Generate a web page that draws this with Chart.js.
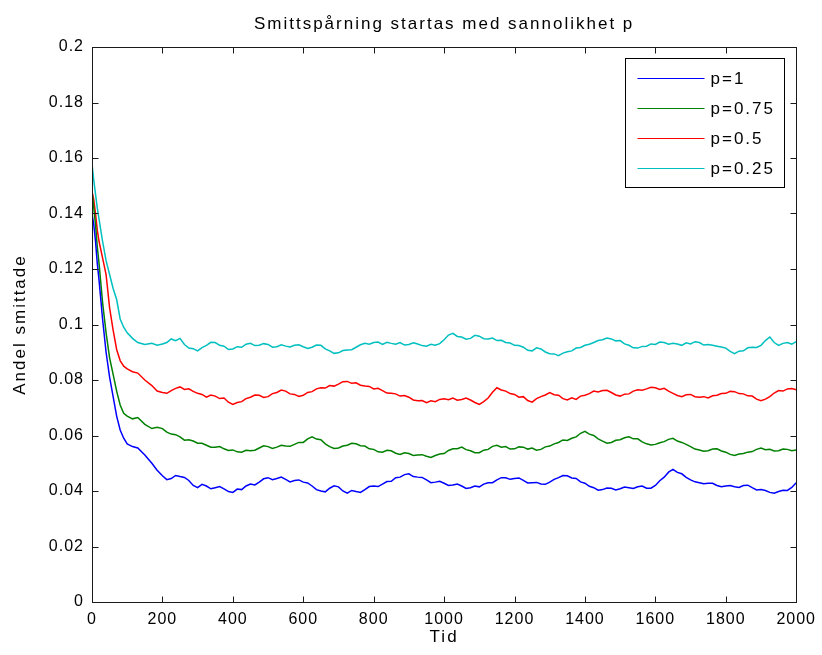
<!DOCTYPE html>
<html>
<head>
<meta charset="utf-8">
<script src="https://cdn.jsdelivr.net/npm/chart.js@4"></script>
<style>
  body { margin: 0; background: #fff; }
  #wrap { width: 822px; height: 655px; }
</style>
</head>
<body>
<div id="wrap"><canvas id="smitta" width="822" height="655"></canvas></div>
<script>
// tid (x)
var tid = [0,5,10,15,20,30,40,50,60,70,80,90,100,115,130,150,170,185,
  200,212.5,225,237.5,250,262.5,275,287.5,300,312.5,
  325,337.5,350,362.5,375,387.5,400,412.5,425,437.5,
  450,462.5,475,487.5,500,512.5,525,537.5,550,562.5,
  575,587.5,600,612.5,625,637.5,650,662.5,675,687.5,
  700,712.5,725,737.5,750,762.5,775,787.5,800,812.5,
  825,837.5,850,862.5,875,887.5,900,912.5,925,937.5,
  950,962.5,975,987.5,1000,1012.5,1025,1037.5,1050,1062.5,
  1075,1087.5,1100,1112.5,1125,1137.5,1150,1162.5,1175,1187.5,
  1200,1212.5,1225,1237.5,1250,1262.5,1275,1287.5,1300,1312.5,
  1325,1337.5,1350,1362.5,1375,1387.5,1400,1412.5,1425,1437.5,
  1450,1462.5,1475,1487.5,1500,1512.5,1525,1537.5,1550,1562.5,
  1575,1587.5,1600,1612.5,1625,1637.5,1650,1662.5,1675,1687.5,
  1700,1712.5,1725,1737.5,1750,1762.5,1775,1787.5,1800,1812.5,
  1825,1837.5,1850,1862.5,1875,1887.5,1900,1912.5,1925,1937.5,
  1950,1962.5,1975,1987.5,2000];

var p1 = [0.140,0.136,0.130,0.122,0.116,0.102,0.090,0.081,0.074,0.067,0.062,0.059,0.057,0.056,0.0555,0.053,0.050,0.0475,
  .0455,.0441,.0445,.0456,.0452,.0449,.0438,.0420,.0412,.0424,
  .0418,.0408,.0412,.0416,.0408,.0398,.0395,.0407,.0405,.0418,
  .0425,.0422,.0432,.0444,.0448,.0441,.0445,.0450,.0442,.0433,
  .0438,.0440,.0432,.0429,.0418,.0405,.0400,.0397,.0410,.0419,
  .0415,.0400,.0392,.0402,.0398,.0395,.0405,.0416,.0418,.0416,
  .0425,.0434,.0435,.0448,.0450,.0459,.0462,.0452,.0450,.0449,
  .0440,.0430,.0432,.0435,.0428,.0420,.0422,.0425,.0418,.0409,
  .0412,.0418,.0415,.0425,.0430,.0430,.0440,.0448,.0448,.0442,
  .0445,.0447,.0438,.0429,.0430,.0431,.0425,.0424,.0432,.0442,
  .0448,.0456,.0455,.0447,.0445,.0433,.0428,.0417,.0412,.0403,
  .0405,.0411,.0410,.0404,.0408,.0414,.0412,.0409,.0415,.0418,
  .0410,.0410,.0420,.0437,.0450,.0468,.0478,.0467,.0462,.0449,
  .0440,.0433,.0430,.0426,.0428,.0428,.0420,.0415,.0418,.0420,
  .0415,.0413,.0420,.0421,.0412,.0404,.0405,.0402,.0395,.0392,
  .0398,.0403,.0402,.0413,.0430];

var p075 = [0.148,0.142,0.136,0.128,0.122,0.108,0.097,0.088,0.082,0.076,0.071,0.068,0.067,0.066,0.0665,0.064,0.0625,0.063,
  .0625,.0612,.0605,.0603,.0595,.0583,.0585,.0580,.0572,.0572,
  .0565,.0558,.0558,.0560,.0552,.0546,.0548,.0541,.0540,.0547,
  .0545,.0547,.0555,.0563,.0560,.0553,.0558,.0565,.0562,.0561,
  .0568,.0575,.0575,.0588,.0595,.0587,.0585,.0570,.0560,.0553,
  .0555,.0562,.0565,.0572,.0570,.0563,.0562,.0552,.0550,.0541,
  .0540,.0547,.0545,.0536,.0532,.0538,.0535,.0528,.0530,.0531,
  .0525,.0521,.0528,.0533,.0535,.0546,.0552,.0552,.0558,.0549,
  .0545,.0538,.0538,.0547,.0550,.0561,.0565,.0558,.0560,.0551,
  .0552,.0559,.0558,.0551,.0555,.0547,.0550,.0559,.0562,.0570,
  .0575,.0584,.0582,.0590,.0595,.0608,.0615,.0605,.0600,.0588,
  .0580,.0572,.0575,.0583,.0585,.0592,.0595,.0588,.0588,.0577,
  .0570,.0566,.0568,.0574,.0578,.0586,.0590,.0580,.0575,.0568,
  .0560,.0551,.0548,.0543,.0545,.0551,.0552,.0544,.0540,.0532,
  .0528,.0533,.0535,.0540,.0542,.0550,.0555,.0549,.0550,.0544,
  .0545,.0551,.0550,.0545,.0548];

var p05 = [0.148,0.145,0.140,0.134,0.130,0.124,0.118,0.106,0.098,0.091,0.087,0.085,0.084,0.083,0.0825,0.080,0.078,0.076,
  .0755,.0752,.0762,.0770,.0775,.0766,.0768,.0759,.0752,.0748,
  .0738,.0746,.0742,.0733,.0735,.0720,.0712,.0719,.0722,.0733,
  .0738,.0746,.0745,.0737,.0740,.0751,.0755,.0764,.0760,.0750,
  .0748,.0741,.0745,.0755,.0758,.0768,.0772,.0771,.0780,.0778,
  .0785,.0794,.0795,.0788,.0790,.0781,.0778,.0777,.0768,.0770,
  .0762,.0753,.0752,.0750,.0742,.0744,.0738,.0728,.0725,.0726,
  .0718,.0725,.0722,.0730,.0732,.0729,.0735,.0727,.0730,.0735,
  .0728,.0719,.0712,.0722,.0735,.0756,.0772,.0764,.0760,.0751,
  .0748,.0738,.0740,.0726,.0720,.0733,.0740,.0746,.0755,.0747,
  .0745,.0733,.0728,.0736,.0730,.0742,.0745,.0751,.0760,.0757,
  .0762,.0763,.0755,.0746,.0742,.0749,.0750,.0760,.0765,.0763,
  .0768,.0774,.0772,.0766,.0770,.0760,.0752,.0744,.0740,.0747,
  .0748,.0740,.0738,.0740,.0735,.0743,.0745,.0751,.0752,.0759,
  .0758,.0751,.0750,.0743,.0742,.0731,.0725,.0731,.0740,.0753,
  .0762,.0760,.0768,.0769,.0765];

var p025 = [0.158,0.152,0.147,0.142,0.138,0.130,0.123,0.118,0.113,0.109,0.102,0.099,0.097,0.095,0.0935,0.0928,0.0932,0.0925,
  .0930,.0935,.0948,.0942,.0950,.0928,.0915,.0913,.0905,.0917,
  .0925,.0936,.0935,.0925,.0922,.0910,.0912,.0920,.0918,.0929,
  .0932,.0924,.0925,.0931,.0928,.0918,.0920,.0927,.0922,.0919,
  .0925,.0927,.0920,.0914,.0918,.0926,.0925,.0912,.0905,.0896,
  .0898,.0906,.0908,.0909,.0918,.0927,.0932,.0929,.0935,.0937,
  .0928,.0936,.0932,.0929,.0935,.0926,.0928,.0934,.0930,.0924,
  .0922,.0929,.0925,.0931,.0945,.0962,.0968,.0957,.0955,.0947,
  .0950,.0961,.0958,.0949,.0948,.0951,.0942,.0943,.0935,.0933,
  .0925,.0924,.0918,.0907,.0905,.0916,.0912,.0901,.0895,.0894,
  .0888,.0897,.0902,.0905,.0915,.0917,.0925,.0929,.0935,.0942,
  .0945,.0951,.0948,.0941,.0942,.0930,.0925,.0916,.0915,.0921,
  .0922,.0930,.0928,.0937,.0935,.0929,.0932,.0930,.0925,.0934,
  .0930,.0938,.0935,.0926,.0928,.0925,.0922,.0919,.0915,.0903,
  .0895,.0904,.0905,.0916,.0918,.0917,.0925,.0942,.0955,.0935,
  .0925,.0932,.0935,.0929,.0938];

var serieNamn = ['p=1', 'p=0.75', 'p=0.5', 'p=0.25'];
var farger = ['#0000ff', '#008000', '#ff0000', '#00bfbf'];
var xTickText = ['0','200','400','600','800','1000','1200','1400','1600','1800','2000'];
var yTickText = ['0','0.02','0.04','0.06','0.08','0.1','0.12','0.14','0.16','0.18','0.2'];

function punkter(arr) {
  return tid.map(function (t, i) { return { x: t, y: arr[i] }; });
}

var FAM = '"Liberation Sans", Arial, sans-serif';
var tickFont = { family: FAM, size: 16 };
var labelFont = { family: FAM, size: 17 };

// matlab-ish box with inward ticks + legend inside the plot
var matlabBox = {
  id: 'matlabBox',
  beforeDraw: function (chart) {
    chart.ctx.letterSpacing = '2px';   // title + axis titles
  },
  afterDatasetsDraw: function (chart) {
    chart.ctx.letterSpacing = '1px';   // tick labels (drawn with z=1)
  },
  afterDraw: function (chart) {
    var ctx = chart.ctx;
    var a = chart.chartArea;
    var xs = chart.scales.x, ys = chart.scales.y;
    var L = Math.round(a.left) + 0.5, R = Math.round(a.right) + 0.5;
    var T = Math.round(a.top) + 0.5, B = Math.round(a.bottom) + 0.5;
    ctx.save();
    ctx.strokeStyle = '#1a1a1a';
    ctx.lineWidth = 1;
    ctx.strokeRect(L, T, R - L, B - T);
    ctx.beginPath();
    xs.ticks.forEach(function (t) {
      var px = Math.round(xs.getPixelForValue(t.value)) + 0.5;
      ctx.moveTo(px, B); ctx.lineTo(px, B - 6);
      ctx.moveTo(px, T); ctx.lineTo(px, T + 6);
    });
    ys.ticks.forEach(function (t) {
      var py = Math.round(ys.getPixelForValue(t.value)) + 0.5;
      ctx.moveTo(L, py); ctx.lineTo(L + 6, py);
      ctx.moveTo(R, py); ctx.lineTo(R - 6, py);
    });
    ctx.stroke();

    // legend
    var bx = Math.round(a.right) - 170.5, by = Math.round(a.top) + 11.5;
    var bw = 159, bh = 129;
    ctx.fillStyle = '#fff';
    ctx.fillRect(bx, by, bw, bh);
    ctx.strokeStyle = '#000';
    ctx.strokeRect(bx, by, bw, bh);
    ctx.letterSpacing = '2px';
    ctx.font = '17px ' + FAM;
    ctx.textBaseline = 'middle';
    ctx.textAlign = 'left';
    for (var i = 0; i < serieNamn.length; i++) {
      var ly = Math.round(by + 19 + i * 30) + 0.5;
      ctx.strokeStyle = farger[i];
      ctx.lineWidth = 1.2;
      ctx.beginPath();
      ctx.moveTo(bx + 12, ly); ctx.lineTo(bx + 79, ly);
      ctx.stroke();
      ctx.fillStyle = '#000';
      ctx.fillText(serieNamn[i], bx + 85, ly + 1);
    }
    ctx.restore();
  }
};

var ctx = document.getElementById('smitta').getContext('2d');
var myChart = new Chart(ctx, {
  type: 'line',
  data: {
    datasets: [p1, p075, p05, p025].map(function (arr, i) {
      return {
        label: serieNamn[i],
        data: punkter(arr),
        borderColor: farger[i],
        backgroundColor: farger[i],
        borderWidth: 1.5,
        pointRadius: 0,
        tension: 0,
        fill: false
      };
    })
  },
  options: {
    responsive: false,
    animation: false,
    layout: { padding: { left: 0, right: 25, top: 0, bottom: 0 } },
    plugins: {
      legend: { display: false },
      tooltip: { enabled: false },
      title: {
        display: true,
        fullSize: false,
        text: 'Smittspårning startas med sannolikhet p',
        color: '#000',
        font: { family: FAM, size: 17, weight: 'normal', lineHeight: 1 },
        padding: { top: 16, bottom: 14 }
      }
    },
    scales: {
      x: {
        type: 'linear',
        min: 0, max: 2000,
        grid: { display: false, drawTicks: false },
        border: { display: false },
        ticks: {
          stepSize: 200, color: '#000', font: tickFont, padding: 8, maxRotation: 0, z: 1,
          callback: function (v, i) { return xTickText[i]; }
        },
        title: { display: true, text: 'Tid', color: '#000', font: labelFont, padding: { top: 0, bottom: 7 } },
        afterFit: function (s) { s.height = 53; }
      },
      y: {
        min: 0, max: 0.2,
        grid: { display: false, drawTicks: false },
        border: { display: false },
        ticks: {
          stepSize: 0.02, color: '#000', font: tickFont, padding: 8, z: 1,
          callback: function (v, i) { return yTickText[i]; }
        },
        title: { display: true, text: 'Andel smittade', color: '#000', font: labelFont, padding: { top: 10, bottom: 0 } },
        afterFit: function (s) { s.width = 92; }
      }
    }
  },
  plugins: [matlabBox]
});
</script>
</body>
</html>
